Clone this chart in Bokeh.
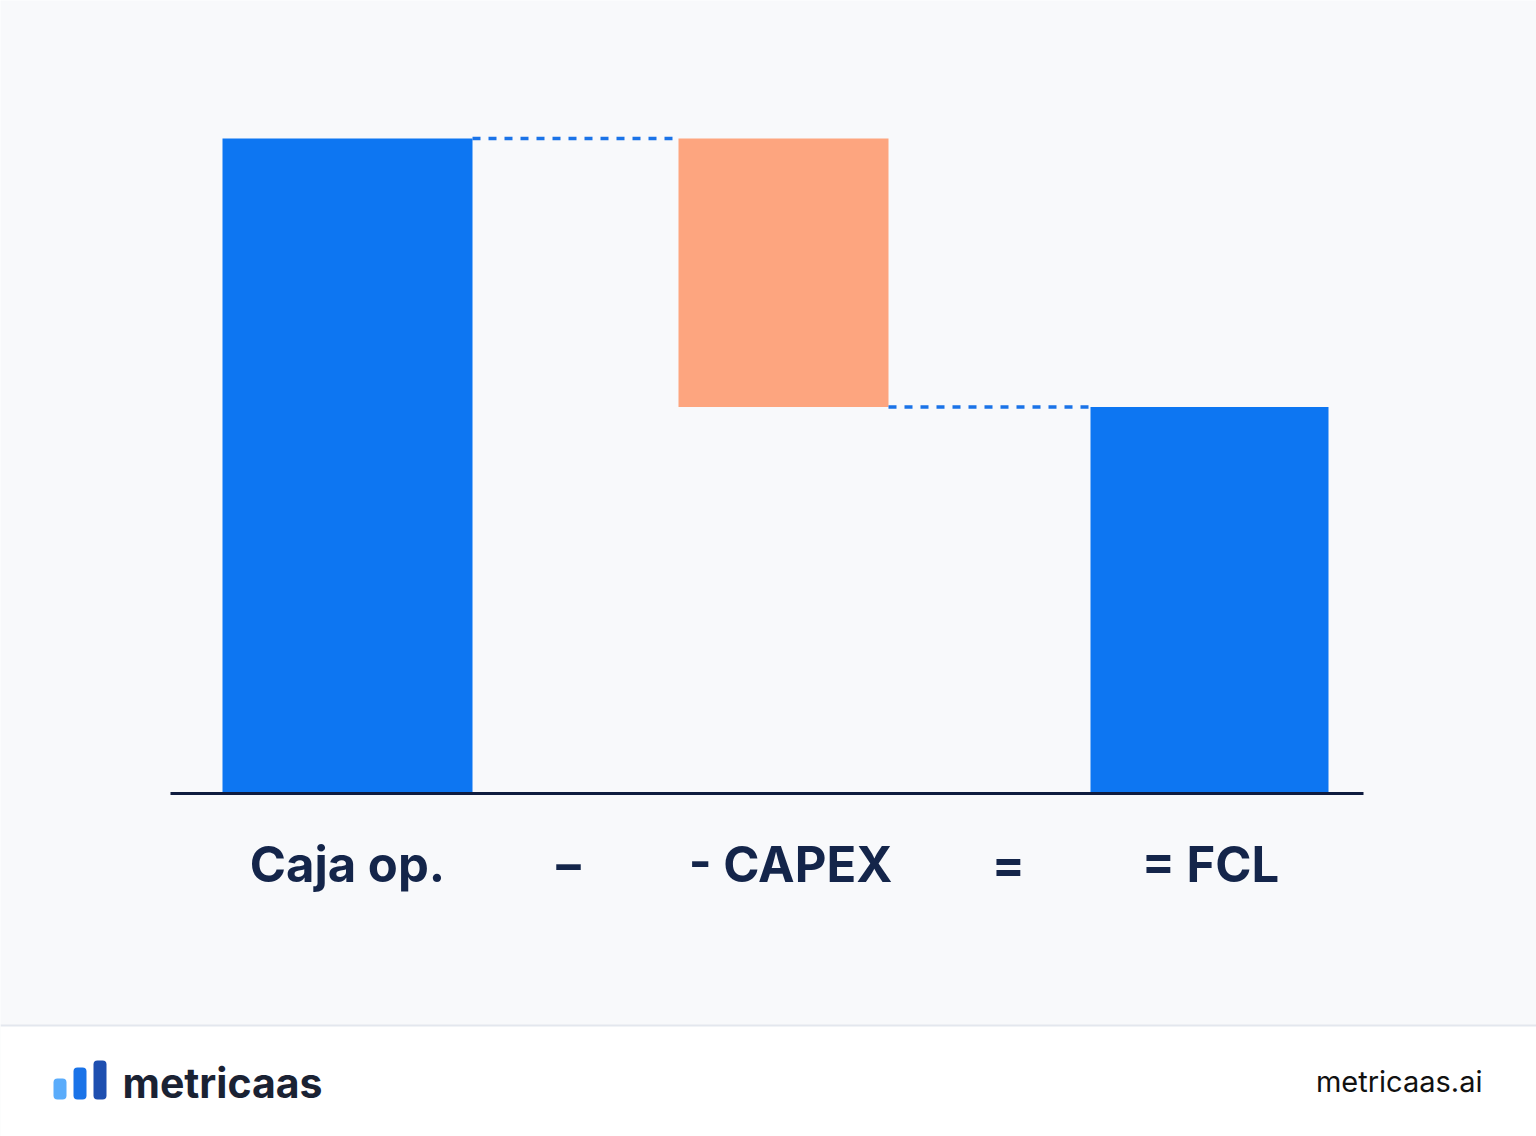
from bokeh.plotting import figure
from bokeh.models import Range1d
from bokeh.core.properties import value
from bokeh.embed import file_html
from bokeh.resources import INLINE

# ---- data ----
categories = ["Caja op.", "- CAPEX", "= FCL"]
values = [100, -41, 59]
kinds = ["total", "delta", "total"]
operators = ["–", "="]
brand = "metricaas"
site = "metricaas.ai"

W, H = 1536, 1136
PX_PER_UNIT = 6.55
ZERO_PY = 793


def yv(py):
    # convert a layout pixel row to data units
    return (ZERO_PY - py) / PX_PER_UNIT


p = figure(width=W, height=H, output_backend="svg", toolbar_location=None,
           x_range=Range1d(0, W), y_range=Range1d(yv(H), yv(0)),
           min_border=0, outline_line_color=None)
p.axis.visible = False
p.grid.visible = False
p.background_fill_color = "#f8f9fb"
p.border_fill_color = "#f8f9fb"

# footer
p.quad(left=0, right=W, bottom=yv(H), top=yv(1025), fill_color="#ffffff", line_color=None)
p.segment(x0=0, x1=W, y0=yv(1025), y1=yv(1025), line_color="#e3e7ee", line_width=2)

# waterfall bars
bar_x = [347, 783, 1209]
bar_w = [250, 210, 238]
bottoms, tops, colors = [], [], []
running = 0
for v, k in zip(values, kinds):
    if k == "total":
        b, t = 0, v
        running = v
    else:
        new = running + v
        b, t = min(running, new), max(running, new)
        running = new
    bottoms.append(b)
    tops.append(t)
    colors.append("#0d76f2" if k == "total" else "#fda57f")

p.vbar(x=bar_x, width=bar_w, bottom=bottoms, top=tops, fill_color=colors, line_color=None)

# connectors
for i in range(len(values) - 1):
    level = bottoms[i] if kinds[i] == "delta" else tops[i]
    x0 = bar_x[i] + bar_w[i] / 2
    x1 = bar_x[i + 1] - bar_w[i + 1] / 2
    p.segment(x0=x0, x1=x1, y0=level, y1=level, line_color="#1a73e8",
              line_width=3.5, line_dash="8 8")

# baseline
p.segment(x0=170, x1=1363, y0=0, y1=0, line_color="#0f1c3f", line_width=3)

# labels
label_x = [347, 790, 1210]
p.text(x=label_x, y=[yv(864)] * 3, text=categories, text_align="center",
       text_baseline="alphabetic", text_font=value("Inter"), text_font_style="bold",
       text_font_size="49px", text_color="#14254a")
p.text(x=[568, 1008], y=[yv(864)] * 2, text=operators, text_align="center",
       text_baseline="alphabetic", text_font=value("Inter"), text_font_style="bold",
       text_font_size="49px", text_color="#14254a")

# logo
p.quad(left=[53, 73, 93], right=[66, 86, 106], bottom=[yv(1099)] * 3,
       top=[yv(1078), yv(1067), yv(1060)],
       fill_color=["#5aacfb", "#1a73e8", "#1e4fb0"], line_color=None, border_radius=4)
p.text(x=[122], y=[yv(1082)], text=[brand], text_align="left", text_baseline="alphabetic",
       text_font=value("Inter"), text_font_style="bold", text_font_size="41px",
       text_color="#1a2233")
p.text(x=[1482], y=[yv(1081)], text=[site], text_align="right", text_baseline="alphabetic",
       text_font=value("Inter"), text_font_size="29px", text_color="#111111")

open("out.html", "w").write(file_html(p, INLINE))
